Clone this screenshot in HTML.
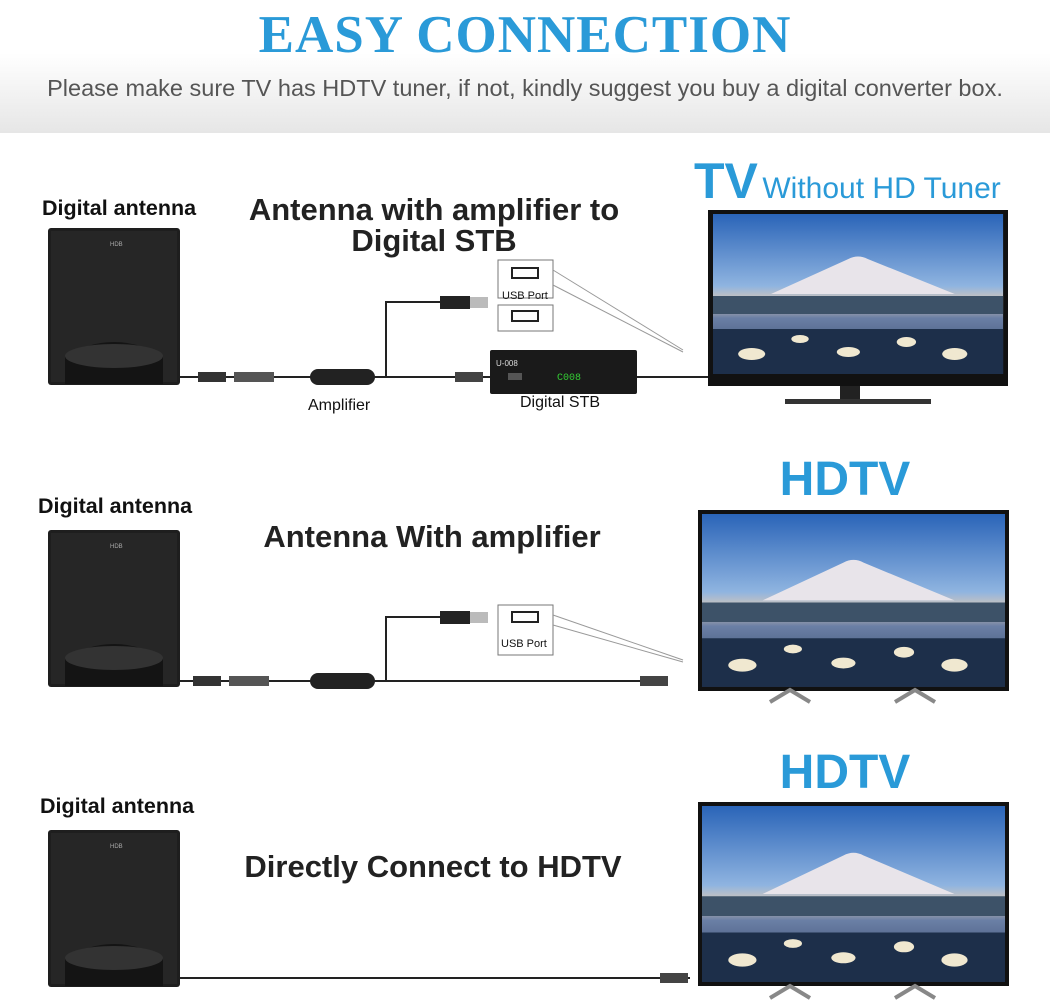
<!DOCTYPE html>
<html><head><meta charset="utf-8"><style>
*{margin:0;padding:0;box-sizing:border-box}
body{width:1050px;height:1004px;position:relative;background:#fff;font-family:"Liberation Sans",Arial,sans-serif;overflow:hidden}
.hdr{position:absolute;left:0;top:0;width:1050px;height:133px;background:linear-gradient(#fff 0%,#fff 40%,#e6e6e6 100%)}
.t{position:absolute;white-space:nowrap}
.title{left:0;width:1050px;text-align:center;top:5px;font-family:"Liberation Serif",serif;font-weight:bold;font-size:53px;color:#2a9ad8;letter-spacing:1px}
.sub{left:0;width:1050px;text-align:center;top:75px;font-size:23.5px;color:#555}
.da{font-weight:bold;font-size:21.5px;color:#111}
.h{font-weight:bold;font-size:31px;color:#222;text-align:center;width:420px;line-height:31px}
.blue{color:#2a9ad8;font-weight:bold}
.sm{font-size:16px;color:#111}
.xs{font-size:11px;color:#111}
</style></head><body>
<div class="hdr"></div>
<div class="t title">EASY CONNECTION</div>
<div class="t sub">Please make sure TV has HDTV tuner, if not, kindly suggest you buy a digital converter box.</div>

<svg width="1050" height="1004" style="position:absolute;left:0;top:0">
<defs>
<linearGradient id="sky" x1="0" y1="0" x2="0" y2="1">
<stop offset="0" stop-color="#2a64b8"/><stop offset="0.45" stop-color="#8fb4e0"/><stop offset="0.55" stop-color="#d9c7b5"/><stop offset="0.65" stop-color="#6a7fa5"/><stop offset="1" stop-color="#2c3e60"/></linearGradient>
<g id="ant">
<rect x="0" y="0" width="132" height="157" rx="3" fill="#1e1e1e"/>
<rect x="3" y="3" width="126" height="151" fill="#262626"/>
<text x="62" y="18" font-size="6" fill="#aaa" font-family="Liberation Sans">HDB</text>
<path d="M17 156 L17 128 Q66 100 115 128 L115 156 Z" fill="#141414"/>
<ellipse cx="66" cy="128" rx="49" ry="12" fill="#333"/>
</g>
<g id="scr">
<rect x="0" y="0" width="300" height="160" fill="url(#sky)"/>
<path d="M60 80 L140 45 Q150 40 160 45 L250 80 Z" fill="#e8e4ea"/>
<path d="M0 82 L300 82 L300 100 L0 100Z" fill="#3d5268"/>
<path d="M0 115 L300 115 L300 160 L0 160Z" fill="#1d2f4a"/>
<g fill="#f0e8d0"><ellipse cx="40" cy="140" rx="14" ry="6"/><ellipse cx="140" cy="138" rx="12" ry="5"/><ellipse cx="200" cy="128" rx="10" ry="5"/><ellipse cx="250" cy="140" rx="13" ry="6"/><ellipse cx="90" cy="125" rx="9" ry="4"/></g>
</g>
</defs>

<!-- Section 1 -->
<use href="#ant" x="48" y="228"/>
<line x1="180" y1="377" x2="708" y2="377" stroke="#222" stroke-width="2"/>
<rect x="198" y="372" width="28" height="10" fill="#333"/>
<rect x="234" y="372" width="40" height="10" fill="#555"/>
<rect x="310" y="369" width="65" height="16" rx="8" fill="#222"/>
<polyline points="375,377 386,377 386,302 440,302" fill="none" stroke="#222" stroke-width="2"/>
<rect x="440" y="296" width="30" height="13" fill="#222"/><rect x="470" y="297" width="18" height="11" fill="#bbb"/>
<rect x="455" y="372" width="28" height="10" fill="#444"/>
<rect x="498" y="260" width="55" height="38" fill="#fff" stroke="#777"/>
<rect x="512" y="268" width="26" height="10" fill="#fff" stroke="#222" stroke-width="2"/>
<rect x="498" y="305" width="55" height="26" fill="#fff" stroke="#777"/>
<rect x="512" y="311" width="26" height="10" fill="#fff" stroke="#222" stroke-width="2"/>
<line x1="553" y1="270" x2="683" y2="350" stroke="#999"/><line x1="553" y1="285" x2="683" y2="352" stroke="#999"/>
<rect x="490" y="350" width="147" height="44" rx="2" fill="#1a1a1a"/>
<text x="496" y="366" font-size="8" fill="#ddd" font-family="Liberation Sans">U-008</text>
<text x="557" y="380" font-size="10" fill="#3c3" font-family="Liberation Mono">C008</text>
<rect x="508" y="373" width="14" height="7" fill="#555"/>
<line x1="637" y1="377" x2="708" y2="377" stroke="#222" stroke-width="2"/>
<rect x="708" y="210" width="300" height="176" fill="#111"/>
<use href="#scr" transform="translate(713 214) scale(0.967 1.0)"/>
<rect x="840" y="386" width="20" height="14" fill="#222"/>
<rect x="785" y="399" width="146" height="5" fill="#333"/>

<!-- Section 2 -->
<use href="#ant" x="48" y="530"/>
<line x1="180" y1="681" x2="668" y2="681" stroke="#222" stroke-width="2"/>
<rect x="193" y="676" width="28" height="10" fill="#333"/>
<rect x="229" y="676" width="40" height="10" fill="#555"/>
<rect x="310" y="673" width="65" height="16" rx="8" fill="#222"/>
<polyline points="375,681 386,681 386,617 440,617" fill="none" stroke="#222" stroke-width="2"/>
<rect x="440" y="611" width="30" height="13" fill="#222"/><rect x="470" y="612" width="18" height="11" fill="#bbb"/>
<rect x="640" y="676" width="28" height="10" fill="#444"/>
<rect x="498" y="605" width="55" height="50" fill="#fff" stroke="#777"/>
<rect x="512" y="612" width="26" height="10" fill="#fff" stroke="#222" stroke-width="2"/>
<line x1="553" y1="615" x2="683" y2="660" stroke="#999"/><line x1="553" y1="625" x2="683" y2="662" stroke="#999"/>
<rect x="698" y="510" width="311" height="181" fill="#111"/>
<use href="#scr" transform="translate(702 514) scale(1.01 1.08)"/>
<path d="M770 702 L790 690 L810 702" fill="none" stroke="#888" stroke-width="4"/>
<path d="M895 702 L915 690 L935 702" fill="none" stroke="#888" stroke-width="4"/>

<!-- Section 3 -->
<use href="#ant" x="48" y="830"/>
<line x1="180" y1="978" x2="690" y2="978" stroke="#222" stroke-width="2"/>
<rect x="660" y="973" width="28" height="10" fill="#444"/>
<rect x="698" y="802" width="311" height="184" fill="#111"/>
<use href="#scr" transform="translate(702 806) scale(1.01 1.1)"/>
<path d="M770 998 L790 986 L810 998" fill="none" stroke="#888" stroke-width="4"/>
<path d="M895 998 L915 986 L935 998" fill="none" stroke="#888" stroke-width="4"/>
</svg>

<div class="t da" style="left:42px;top:196px">Digital antenna</div>
<div class="t h" style="left:224px;top:194px">Antenna with amplifier to<br>Digital STB</div>
<div class="t" style="left:694px;top:152px"><span class="blue" style="font-size:50px">TV</span> <span style="color:#2a9ad8;font-size:30px">Without HD Tuner</span></div>
<div class="t sm" style="left:308px;top:397px">Amplifier</div>
<div class="t sm" style="left:520px;top:394px">Digital STB</div>
<div class="t xs" style="left:502px;top:290px">USB Port</div>

<div class="t da" style="left:38px;top:494px">Digital antenna</div>
<div class="t h" style="left:222px;top:521px">Antenna With amplifier</div>
<div class="t blue" style="left:745px;top:452px;width:200px;text-align:center;font-size:48px">HDTV</div>
<div class="t xs" style="left:501px;top:638px">USB Port</div>

<div class="t da" style="left:40px;top:794px">Digital antenna</div>
<div class="t h" style="left:223px;top:851px">Directly Connect to HDTV</div>
<div class="t blue" style="left:745px;top:745px;width:200px;text-align:center;font-size:48px">HDTV</div>
</body></html>
